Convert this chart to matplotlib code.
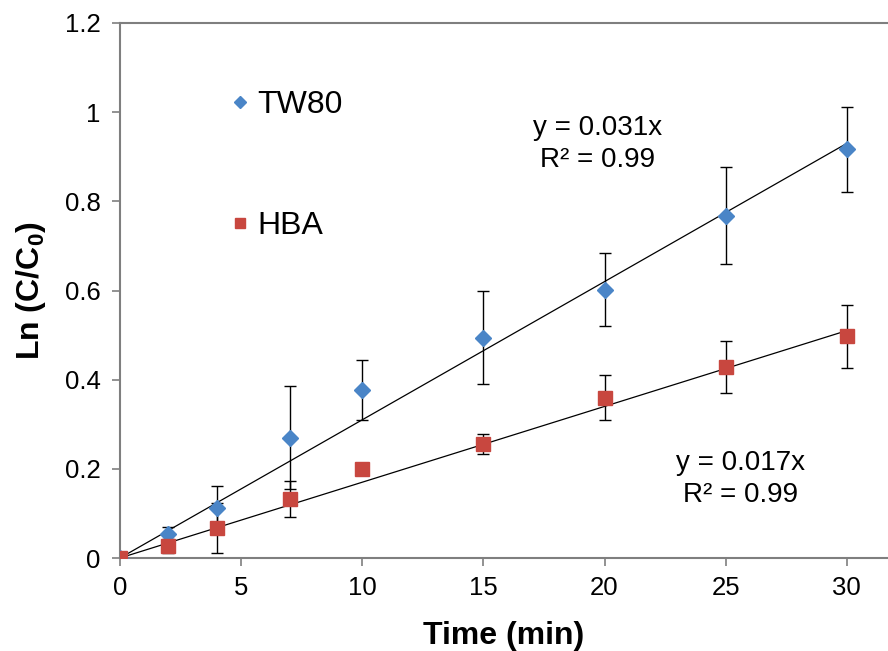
import matplotlib
matplotlib.use("Agg")
import matplotlib.pyplot as plt
import numpy as np
from matplotlib.ticker import FuncFormatter

plt.rcParams['font.family'] = ['Liberation Sans', 'DejaVu Sans']
plt.rcParams['mathtext.fontset'] = 'custom'
plt.rcParams['mathtext.rm'] = 'Liberation Sans'
plt.rcParams['mathtext.bf'] = 'Liberation Sans:bold'

# Data
time = [0, 2, 4, 7, 10, 15, 20, 25, 30]
tw80 = [0.0, 0.054, 0.112, 0.27, 0.377, 0.494, 0.602, 0.768, 0.917]
tw80_err = [0.0, 0.015, 0.05, 0.115, 0.068, 0.104, 0.082, 0.108, 0.095]
hba = [0.0, 0.027, 0.067, 0.133, 0.2, 0.256, 0.36, 0.429, 0.497]
hba_err = [0.0, 0.015, 0.056, 0.04, 0.0, 0.022, 0.05, 0.058, 0.071]
slope_tw80 = 0.031
slope_hba = 0.017
fit_x = [0, 30]
xticks = [0, 5, 10, 15, 20, 25, 30]
yticks = [0, 0.2, 0.4, 0.6, 0.8, 1.0, 1.2]

blue = '#4A85C7'
red = '#C8473F'
spine_c = '#7F7F7F'

fig = plt.figure(figsize=(8.88, 6.51), dpi=100)
ax = fig.add_axes([120/888, 1-558/651, 1-120/888, (558-23)/651])

# trend lines
ax.plot(fit_x, [slope_tw80*x for x in fit_x], color='black', lw=0.9, zorder=2)
ax.plot(fit_x, [slope_hba*x for x in fit_x], color='black', lw=0.9, zorder=2)

# error bars
ax.errorbar(time, tw80, yerr=tw80_err, fmt='none', ecolor='black', elinewidth=1.0,
            capsize=4, capthick=1.0, zorder=3)
ax.errorbar(time, hba, yerr=hba_err, fmt='none', ecolor='black', elinewidth=1.0,
            capsize=4, capthick=1.0, zorder=3)

# markers
ax.plot(time, tw80, linestyle='none', marker='D', markersize=8.5, color=blue,
        markeredgecolor=blue, label='TW80', zorder=4)
ax.plot(time, hba, linestyle='none', marker='s', markersize=9.5, color=red,
        markeredgecolor=red, label='HBA', zorder=4)

ax.set_xlim(0, 31.7)
ax.set_ylim(0, 1.2)
ax.set_xticks(xticks)
ax.set_yticks(yticks)
ax.yaxis.set_major_formatter(FuncFormatter(lambda v, p: f'{v:g}'))
ax.tick_params(axis='both', direction='out', length=6, width=1.2, color=spine_c,
               labelsize=18.5, labelcolor='black')
ax.tick_params(axis='x', pad=7)
ax.tick_params(axis='y', pad=8)

for s in ['left', 'bottom', 'top']:
    ax.spines[s].set_color(spine_c)
    ax.spines[s].set_linewidth(1.5)
ax.spines['right'].set_visible(False)

ax.set_xlabel('Time (min)', fontsize=23, fontweight='bold', labelpad=15)
ax.set_ylabel(r'Ln (C/C$_\mathbf{0}$)', fontsize=23, fontweight='bold', labelpad=12)

leg = ax.legend(loc='upper left', bbox_to_anchor=(227/888, 1-90/651),
                bbox_transform=fig.transFigure, frameon=False, fontsize=23,
                numpoints=1, handlelength=0.8, handletextpad=0.15,
                labelspacing=2.85, borderpad=0, borderaxespad=0, markerscale=0.75)

ax.text(19.7, 0.928, 'y = 0.031x\nR² = 0.99', fontsize=20, ha='center', va='center',
        linespacing=1.3)
ax.text(25.6, 0.178, 'y = 0.017x\nR² = 0.99', fontsize=20, ha='center', va='center',
        linespacing=1.3)

fig.savefig('out.png', dpi=100)
